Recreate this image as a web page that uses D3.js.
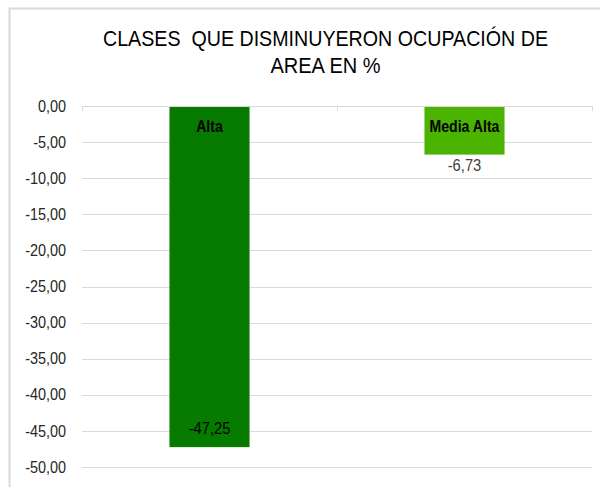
<!DOCTYPE html>
<html>
<head>
<meta charset="utf-8">
<script src="https://cdn.jsdelivr.net/npm/d3@7"></script>
<style>
  body { margin: 0; background: #fff; }
  svg { display: block; }
  text { font-family: "Liberation Sans Narrow", "Arial Narrow", "Liberation Sans", Arial, sans-serif; white-space: pre; }
</style>
</head>
<body>
<script>
// chart data
var categories = ["Alta", "Media Alta"];
var values = [-47.25, -6.73];
var barColors = ["#077a00", "#4ab400"];
var yTicks = [0, -5, -10, -15, -20, -25, -30, -35, -40, -45, -50];
var titleLines = ["CLASES  QUE DISMINUYERON OCUPACIÓN DE", "AREA EN %"];

var width = 600, height = 487;
var plotLeft = 82, plotRight = 592, plotTop = 106, plotBottom = 467;

var svg = d3.select(document.body)
  .append("svg")
  .attr("width", width)
  .attr("height", height);

// squeeze a text sideways, like the narrow font of the original
function narrow(sel, k) {
  sel.each(function () {
    var len = this.getComputedTextLength();
    d3.select(this)
      .attr("textLength", len * k)
      .attr("lengthAdjust", "spacingAndGlyphs");
  });
}

// chart border
svg.append("rect")
  .attr("x", 9.5)
  .attr("y", 8.5)
  .attr("width", 600)
  .attr("height", 500)
  .attr("fill", "#fff")
  .attr("stroke", "#d9d9d9")
  .attr("stroke-width", 2);

var x = d3.scaleBand()
  .domain(categories)
  .range([plotLeft, plotRight])
  .paddingInner(0.686)
  .paddingOuter(0.343);

var y = d3.scaleLinear()
  .domain([-50, 0])
  .range([plotBottom, plotTop]);

// title
svg.append("g").selectAll("text")
  .data(titleLines)
  .enter().append("text")
  .attr("x", 325.5)
  .attr("y", function (d, i) { return 46 + i * 27; })
  .attr("text-anchor", "middle")
  .attr("font-size", 22)
  .attr("fill", "#000")
  .attr("textLength", function (d, i) { return i == 0 ? 445 : 110; })
  .attr("lengthAdjust", "spacingAndGlyphs")
  .text(function (d) { return d; });

// gridlines
svg.append("g").selectAll("line")
  .data(yTicks)
  .enter().append("line")
  .attr("x1", plotLeft)
  .attr("x2", plotRight)
  .attr("y1", function (d) { return Math.round(y(d)) + 0.5; })
  .attr("y2", function (d) { return Math.round(y(d)) + 0.5; })
  .attr("stroke", "#d9d9d9")
  .attr("stroke-width", 1);

// y axis labels
var fmt = function (d) { return d3.format(".2f")(d).replace(".", ",").replace("−", "-"); };
var yAxis = d3.axisLeft(y)
  .tickValues(yTicks)
  .tickSize(0)
  .tickPadding(0)
  .tickFormat(fmt);
var gy = svg.append("g")
  .attr("transform", "translate(66,0)")
  .call(yAxis);
gy.select(".domain").remove();
gy.attr("font-family", null).attr("font-size", null);
gy.selectAll("text")
  .attr("font-size", 16)
  .attr("fill", "#262626")
  .call(narrow, 0.9);

// bars
svg.append("g").selectAll("rect")
  .data(values)
  .enter().append("rect")
  .attr("x", function (d, i) { return x(categories[i]); })
  .attr("width", x.bandwidth())
  .attr("y", y(0))
  .attr("height", function (d) { return y(d) - y(0); })
  .attr("fill", function (d, i) { return barColors[i]; });

// category axis at zero
svg.append("line")
  .attr("x1", plotLeft).attr("x2", plotRight)
  .attr("y1", Math.round(y(0)) + 0.5).attr("y2", Math.round(y(0)) + 0.5)
  .attr("stroke", "#d9d9d9");
var sepX = [plotLeft, plotLeft + x.step(), plotRight];
svg.append("g").selectAll("line")
  .data(sepX)
  .enter().append("line")
  .attr("x1", function (d) { return Math.round(d) + 0.5; })
  .attr("x2", function (d) { return Math.round(d) + 0.5; })
  .attr("y1", y(0))
  .attr("y2", y(0) + 5)
  .attr("stroke", "#d9d9d9");

// category names inside bars
svg.append("g").selectAll("text")
  .data(categories)
  .enter().append("text")
  .attr("x", function (d) { return x(d) + x.bandwidth() / 2; })
  .attr("y", 132)
  .attr("text-anchor", "middle")
  .attr("font-size", 16)
  .attr("font-weight", "bold")
  .attr("fill", "#000")
  .text(function (d) { return d; })
  .call(narrow, 0.88);

// value labels
svg.append("g").selectAll("text")
  .data(values)
  .enter().append("text")
  .attr("x", function (d, i) { return x(categories[i]) + x.bandwidth() / 2; })
  .attr("y", function (d) { return d < -20 ? y(d) - 13 : y(d) + 16; })
  .attr("text-anchor", "middle")
  .attr("font-size", 16)
  .attr("fill", function (d) { return d < -20 ? "#000" : "#404040"; })
  .text(fmt)
  .call(narrow, 0.92);
</script>
</body>
</html>
